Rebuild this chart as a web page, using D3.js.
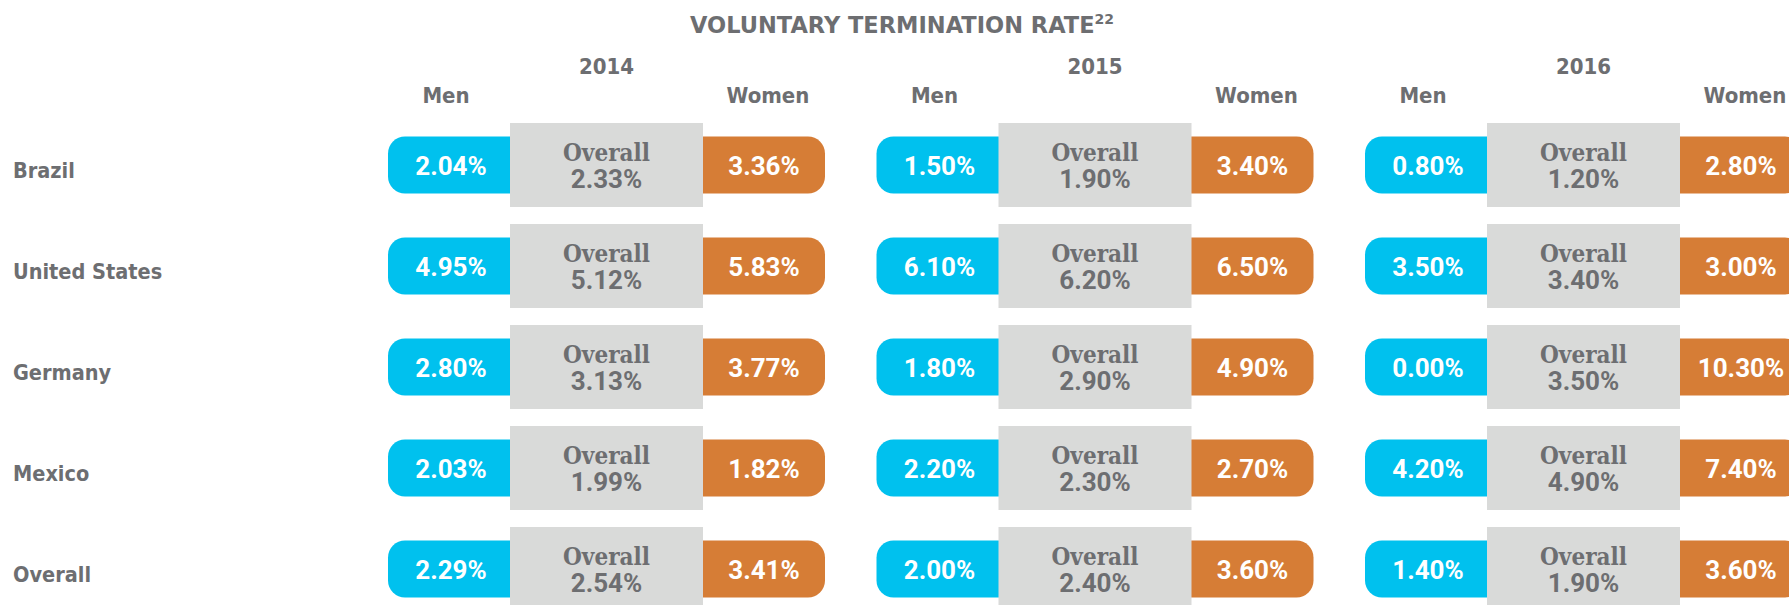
<!DOCTYPE html>
<html>
<head>
<meta charset="utf-8">
<script src="https://cdn.jsdelivr.net/npm/d3@7"></script>
<style>
    body { margin: 0; background: #fff; overflow: hidden; }
    svg { display: block; }
    .label { font-family: "DejaVu Sans Condensed", "DejaVu Sans", sans-serif; font-weight: bold; fill: #6d6e71; }
    .title { font-family: "DejaVu Sans", sans-serif; font-weight: bold; fill: #6d6e71; }
    .num { font-family: Roboto, "Liberation Sans", sans-serif; font-weight: bold; }
    .slab { font-family: "DejaVu Serif Condensed", "DejaVu Serif", serif; font-weight: bold; fill: #6d6e71; }
</style>
</head>
<body>
<div id="chart"></div>
<script>
(function() {

    var countries = ["Brazil", "United States", "Germany", "Mexico", "Overall"],
        years = ["2014", "2015", "2016"],
        // rows = countries, columns = years
        menRates = [[2.04, 1.50, 0.80],
                    [4.95, 6.10, 3.50],
                    [2.80, 1.80, 0.00],
                    [2.03, 2.20, 4.20],
                    [2.29, 2.00, 1.40]],
        womenRates = [[3.36, 3.40, 2.80],
                      [5.83, 6.50, 3.00],
                      [3.77, 4.90, 10.30],
                      [1.82, 2.70, 7.40],
                      [3.41, 3.60, 3.60]],
        overallRates = [[2.33, 1.90, 1.20],
                        [5.12, 6.20, 3.40],
                        [3.13, 2.90, 3.50],
                        [1.99, 2.30, 4.90],
                        [2.54, 2.40, 1.90]];

    var width = 1789,
        height = 605,
        textColor = "#6d6e71",
        menColor = "#00c1ee",
        womenColor = "#d67d36",
        boxColor = "#d9dad9",
        pillW = 122, //visible part of the side pills
        boxW = 193,
        boxH = 84,
        pillH = 57,
        pillR = 17;

    var fmt = function(v) {return v.toFixed(2) + "%"; };

    var x = d3.scaleBand().domain(years).range([388, 388 + 3 * 488.5]);
    var y = d3.scalePoint().domain(countries).range([165, 165 + 4 * 101]);

    var svg = d3.select("#chart").append("svg")
                .attr("width", width)
                .attr("height", height);

    var title = svg.append("text")
                   .attr("class", "title")
                   .attr("x", 690)
                   .attr("y", 33)
                   .style("font-size", "22.5px")
                   .text("VOLUNTARY TERMINATION RATE");
    title.append("tspan")
         .attr("dy", -9)
         .style("font-size", "14px")
         .text("22");

    //year headers with Men / Women captions
    var head = svg.selectAll(".yearHead")
                  .data(years)
                  .enter()
                  .append("g")
                  .attr("class", "yearHead")
                  .attr("transform", function(d) {return "translate(" + x(d) + ",0)"; });

    head.append("text")
        .attr("class", "label")
        .attr("x", pillW + boxW / 2)
        .attr("y", 74)
        .attr("text-anchor", "middle")
        .style("font-size", "22px")
        .text(function(d) {return d; });

    head.append("text")
        .attr("class", "label")
        .attr("x", pillW / 2 - 3)
        .attr("y", 103)
        .attr("text-anchor", "middle")
        .style("font-size", "22px")
        .text("Men");

    head.append("text")
        .attr("class", "label")
        .attr("x", pillW + boxW + pillW / 2 + 4)
        .attr("y", 103)
        .attr("text-anchor", "middle")
        .style("font-size", "22px")
        .text("Women");

    //country labels
    svg.selectAll(".rowLabel")
       .data(countries)
       .enter()
       .append("text")
       .attr("class", "label rowLabel")
       .attr("x", 13)
       .attr("y", function(d) {return y(d) + 13; })
       .style("font-size", "21.5px")
       .text(function(d) {return d; });

    //one cell per country and year
    var cells = [];
    countries.forEach(function(c, i) {
        years.forEach(function(yr, j) {
            cells.push({country : c, year : yr,
                        men : menRates[i][j],
                        women : womenRates[i][j],
                        overall : overallRates[i][j]});
        });
    });

    var cell = svg.selectAll(".cell")
                  .data(cells)
                  .enter()
                  .append("g")
                  .attr("class", "cell")
                  .attr("transform", function(d) {return "translate(" + x(d.year) + "," + y(d.country) + ")"; });

    cell.append("rect")
        .attr("x", 0)
        .attr("y", -pillH / 2)
        .attr("width", pillW + pillR + 4)
        .attr("height", pillH)
        .attr("rx", pillR)
        .style("fill", menColor);

    cell.append("rect")
        .attr("x", pillW + boxW - pillR - 4)
        .attr("y", -pillH / 2)
        .attr("width", pillW + pillR + 4)
        .attr("height", pillH)
        .attr("rx", pillR)
        .style("fill", womenColor);

    cell.append("rect")
        .attr("x", pillW)
        .attr("y", -boxH / 2)
        .attr("width", boxW)
        .attr("height", boxH)
        .style("fill", boxColor);

    cell.append("text")
        .attr("class", "num")
        .attr("x", pillW / 2 + 2)
        .attr("y", 10)
        .attr("text-anchor", "middle")
        .style("font-size", "26px")
        .style("fill", "#fff")
        .text(function(d) {return fmt(d.men); });

    cell.append("text")
        .attr("class", "num")
        .attr("x", pillW + boxW + pillW / 2)
        .attr("y", 10)
        .attr("text-anchor", "middle")
        .style("font-size", "26px")
        .style("fill", "#fff")
        .text(function(d) {return fmt(d.women); });

    cell.append("text")
        .attr("class", "slab")
        .attr("x", pillW + boxW / 2)
        .attr("y", -4)
        .attr("text-anchor", "middle")
        .style("font-size", "24px")
        .text("Overall");

    cell.append("text")
        .attr("class", "num")
        .attr("x", pillW + boxW / 2)
        .attr("y", 23)
        .attr("text-anchor", "middle")
        .style("font-size", "26px")
        .style("fill", textColor)
        .text(function(d) {return fmt(d.overall); });

})();
</script>
</body>
</html>
